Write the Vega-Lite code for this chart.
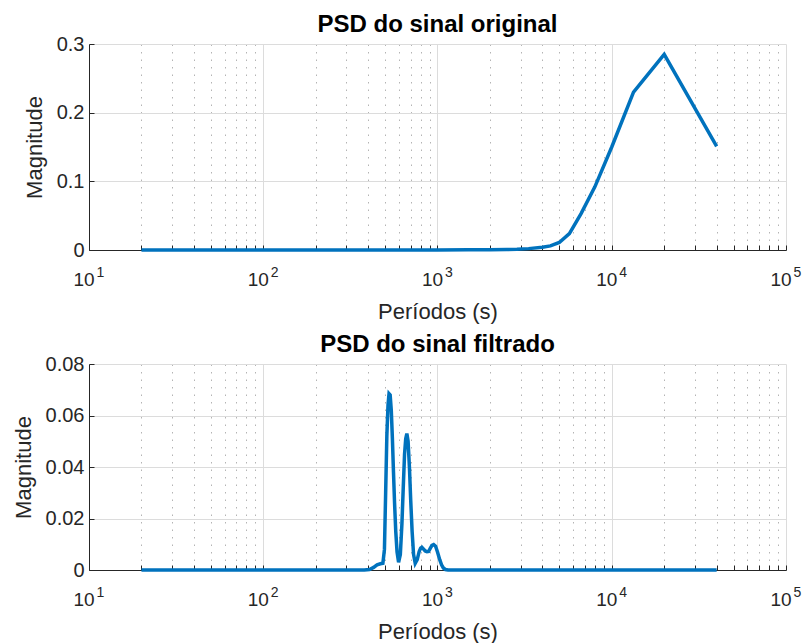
{
  "$schema": "https://vega.github.io/schema/vega-lite/v6.json",
  "background": "white",
  "padding": {"left": 12, "top": 13, "right": 5, "bottom": 5},
  "spacing": 11,
  "config": {
    "font": "Liberation Sans",
    "view": {"stroke": null},
    "axis": {
      "domainColor": "#262626",
      "domainWidth": 1,
      "tickColor": "#262626",
      "tickSize": -5,
      "labelColor": "#262626",
      "labelFontSize": 20,
      "labelFont": "Liberation Sans",
      "titleFont": "Liberation Sans",
      "titleFontSize": 22,
      "titleFontWeight": "normal",
      "titleColor": "#262626",
      "gridColor": "#dcdcdc",
      "gridWidth": 1,
      "labelFlush": false,
      "labelOverlap": false
    },
    "axisX": {"labelPadding": 25, "titlePadding": 12},
    "axisY": {"labelPadding": 10, "titlePadding": 10},
    "title": {"font": "Liberation Sans", "fontSize": 24, "fontWeight": "bold", "color": "#000000", "anchor": "middle", "offset": -3}
  },
  "datasets": {
    "orig": [
      {"periodo": 20, "magnitude": 0},
      {"periodo": 30, "magnitude": 0},
      {"periodo": 50, "magnitude": 0},
      {"periodo": 100, "magnitude": 0},
      {"periodo": 200, "magnitude": 0},
      {"periodo": 400, "magnitude": 0},
      {"periodo": 700, "magnitude": 0},
      {"periodo": 1000, "magnitude": 0.0001},
      {"periodo": 1500, "magnitude": 0.0002},
      {"periodo": 2000, "magnitude": 0.0003},
      {"periodo": 2500, "magnitude": 0.0006},
      {"periodo": 2857, "magnitude": 0.001},
      {"periodo": 3333, "magnitude": 0.002},
      {"periodo": 4000, "magnitude": 0.004},
      {"periodo": 4444, "magnitude": 0.006},
      {"periodo": 5000, "magnitude": 0.011},
      {"periodo": 5714, "magnitude": 0.024},
      {"periodo": 6667, "magnitude": 0.053},
      {"periodo": 8000, "magnitude": 0.092},
      {"periodo": 10000, "magnitude": 0.15},
      {"periodo": 13333, "magnitude": 0.23},
      {"periodo": 20000, "magnitude": 0.285},
      {"periodo": 40000, "magnitude": 0.151}
    ],
    "filt": [
      {"periodo": 20, "magnitude": 0},
      {"periodo": 50, "magnitude": 0},
      {"periodo": 100, "magnitude": 0},
      {"periodo": 200, "magnitude": 0},
      {"periodo": 300, "magnitude": 0},
      {"periodo": 380, "magnitude": 0},
      {"periodo": 407, "magnitude": 0.0002},
      {"periodo": 430, "magnitude": 0.001},
      {"periodo": 450, "magnitude": 0.002},
      {"periodo": 470, "magnitude": 0.0024},
      {"periodo": 486, "magnitude": 0.0026},
      {"periodo": 496, "magnitude": 0.008},
      {"periodo": 504, "magnitude": 0.03},
      {"periodo": 512, "magnitude": 0.052},
      {"periodo": 520, "magnitude": 0.064},
      {"periodo": 527, "magnitude": 0.0685},
      {"periodo": 535, "magnitude": 0.068},
      {"periodo": 543, "magnitude": 0.062},
      {"periodo": 551, "magnitude": 0.051},
      {"periodo": 559, "magnitude": 0.038},
      {"periodo": 567, "magnitude": 0.026},
      {"periodo": 576, "magnitude": 0.015},
      {"periodo": 586, "magnitude": 0.007},
      {"periodo": 598, "magnitude": 0.003},
      {"periodo": 612, "magnitude": 0.006},
      {"periodo": 625, "magnitude": 0.018},
      {"periodo": 636, "magnitude": 0.032},
      {"periodo": 647, "magnitude": 0.045},
      {"periodo": 657, "magnitude": 0.051},
      {"periodo": 667, "magnitude": 0.053},
      {"periodo": 678, "magnitude": 0.05},
      {"periodo": 690, "magnitude": 0.04},
      {"periodo": 702, "magnitude": 0.027},
      {"periodo": 715, "magnitude": 0.015},
      {"periodo": 729, "magnitude": 0.006},
      {"periodo": 745, "magnitude": 0.0026},
      {"periodo": 765, "magnitude": 0.004},
      {"periodo": 785, "magnitude": 0.0072},
      {"periodo": 800, "magnitude": 0.0085},
      {"periodo": 813, "magnitude": 0.0088},
      {"periodo": 830, "magnitude": 0.0082},
      {"periodo": 850, "magnitude": 0.0074},
      {"periodo": 870, "magnitude": 0.0071},
      {"periodo": 889, "magnitude": 0.0072},
      {"periodo": 910, "magnitude": 0.0085},
      {"periodo": 930, "magnitude": 0.0096},
      {"periodo": 950, "magnitude": 0.0099},
      {"periodo": 975, "magnitude": 0.0092},
      {"periodo": 1000, "magnitude": 0.007},
      {"periodo": 1030, "magnitude": 0.004},
      {"periodo": 1055, "magnitude": 0.002},
      {"periodo": 1080, "magnitude": 0.0008},
      {"periodo": 1110, "magnitude": 0.0002},
      {"periodo": 1150, "magnitude": 0},
      {"periodo": 1500, "magnitude": 0},
      {"periodo": 3000, "magnitude": 0},
      {"periodo": 10000, "magnitude": 0},
      {"periodo": 20000, "magnitude": 0},
      {"periodo": 40000, "magnitude": 0}
    ]
  },
  "vconcat": [
    {
      "title": "PSD do sinal original",
      "width": 697,
      "height": 206,
      "data": {"name": "orig"},
      "resolve": {"axis": {"x": "independent"}},
      "layer": [
        {
          "mark": {"type": "line", "color": "#0072BD", "strokeWidth": 3.5},
          "encoding": {
            "x": {
              "field": "periodo",
              "type": "quantitative",
              "scale": {"type": "log", "domain": [10, 100000], "nice": false},
              "axis": {
                "orient": "bottom",
                "title": "Períodos (s)",
                "values": [10, 20, 30, 40, 50, 60, 70, 80, 90, 100, 200, 300, 400, 500, 600, 700, 800, 900, 1000, 2000, 3000, 4000, 5000, 6000, 7000, 8000, 9000, 10000, 20000, 30000, 40000, 50000, 60000, 70000, 80000, 90000, 100000],
                "labelExpr": "indexof([10,100,1000,10000,100000], datum.value) >= 0 ? '10' : ''",
                "labelFontSize": 19,
                "labelOffset": -5.5,
                "gridDash": {"condition": {"test": "indexof([10,100,1000,10000,100000], datum.value) >= 0", "value": []}, "value": [1.5, 6]},
                "gridColor": {"condition": {"test": "indexof([10,100,1000,10000,100000], datum.value) >= 0", "value": "#dcdcdc"}, "value": "#b4b4b4"}
              }
            },
            "y": {
              "field": "magnitude",
              "type": "quantitative",
              "scale": {"domain": [0, 0.3], "nice": false},
              "axis": {"title": "Magnitude", "values": [0, 0.1, 0.2, 0.3], "format": "~g"}
            }
          }
        },
        {
          "mark": {"type": "line", "strokeOpacity": 0},
          "encoding": {
            "x": {
              "field": "periodo",
              "type": "quantitative",
              "axis": {
                "orient": "bottom",
                "title": null,
                "values": [10, 100, 1000, 10000, 100000],
                "labelExpr": "format(log(datum.value) / LN10, '.0f')",
                "labelFontSize": 14,
                "labelOffset": 11,
                "labelPadding": 15,
                "ticks": false,
                "domain": false,
                "grid": false
              }
            },
            "y": {"field": "magnitude", "type": "quantitative"}
          }
        }
      ]
    },
    {
      "title": "PSD do sinal filtrado",
      "width": 697,
      "height": 206,
      "data": {"name": "filt"},
      "resolve": {"axis": {"x": "independent"}},
      "layer": [
        {
          "mark": {"type": "line", "color": "#0072BD", "strokeWidth": 3.5},
          "encoding": {
            "x": {
              "field": "periodo",
              "type": "quantitative",
              "scale": {"type": "log", "domain": [10, 100000], "nice": false},
              "axis": {
                "orient": "bottom",
                "title": "Períodos (s)",
                "values": [10, 20, 30, 40, 50, 60, 70, 80, 90, 100, 200, 300, 400, 500, 600, 700, 800, 900, 1000, 2000, 3000, 4000, 5000, 6000, 7000, 8000, 9000, 10000, 20000, 30000, 40000, 50000, 60000, 70000, 80000, 90000, 100000],
                "labelExpr": "indexof([10,100,1000,10000,100000], datum.value) >= 0 ? '10' : ''",
                "labelFontSize": 19,
                "labelOffset": -5.5,
                "gridDash": {"condition": {"test": "indexof([10,100,1000,10000,100000], datum.value) >= 0", "value": []}, "value": [1.5, 6]},
                "gridColor": {"condition": {"test": "indexof([10,100,1000,10000,100000], datum.value) >= 0", "value": "#dcdcdc"}, "value": "#b4b4b4"}
              }
            },
            "y": {
              "field": "magnitude",
              "type": "quantitative",
              "scale": {"domain": [0, 0.08], "nice": false},
              "axis": {"title": "Magnitude", "values": [0, 0.02, 0.04, 0.06, 0.08], "format": "~g"}
            }
          }
        },
        {
          "mark": {"type": "line", "strokeOpacity": 0},
          "encoding": {
            "x": {
              "field": "periodo",
              "type": "quantitative",
              "axis": {
                "orient": "bottom",
                "title": null,
                "values": [10, 100, 1000, 10000, 100000],
                "labelExpr": "format(log(datum.value) / LN10, '.0f')",
                "labelFontSize": 14,
                "labelOffset": 11,
                "labelPadding": 15,
                "ticks": false,
                "domain": false,
                "grid": false
              }
            },
            "y": {"field": "magnitude", "type": "quantitative"}
          }
        }
      ]
    }
  ]
}
